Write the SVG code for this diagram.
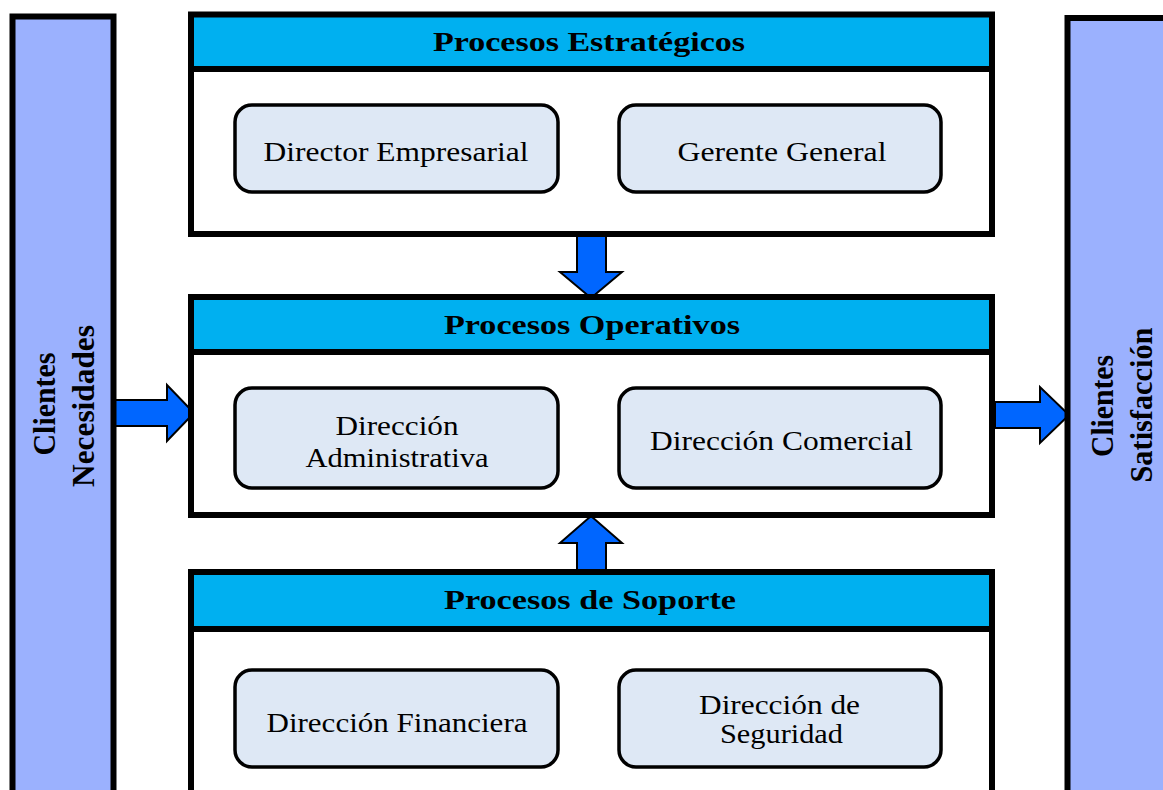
<svg xmlns="http://www.w3.org/2000/svg" width="1163" height="790" viewBox="0 0 1163 790">
<style>
.bar{fill:#9BB1FE;stroke:#000;stroke-width:6}
.hdr{fill:#00B0F0;stroke:#000;stroke-width:6}
.body{fill:#FFFFFF;stroke:#000;stroke-width:6}
.sub{fill:#DEE8F5;stroke:#000;stroke-width:3.5}
.arr{fill:#0066FF;stroke:#000;stroke-width:2;stroke-linejoin:miter}
text{font-family:'Liberation Serif','Times New Roman',Times,'Nimbus Roman',serif;fill:#000;text-anchor:middle}
.ht{font-weight:bold;font-size:28px}
.st{font-size:28px}
.vt{font-weight:bold;font-size:30.5px}
</style>
<rect width="1163" height="790" fill="#FFFFFF"/>
<g id="connectors">
<polygon class="arr" points="115,400 167,400 167,385 194,413 167,441 167,426 115,426"/>
<polygon class="arr" points="995,402 1040,402 1040,387 1069,415 1040,443 1040,428 995,428"/>
<polygon class="arr" points="577,234 606,234 606,272 622,272 591,298 560,272 577,272"/>
<polygon class="arr" points="577,572 606,572 606,543 622,543 591,516 560,543 577,543"/>
</g>
<g id="clientes-necesidades">
<rect class="bar" x="12.5" y="16.5" width="101" height="800"/>
<text class="vt" font-family="Liberation Serif" transform="translate(55,404) rotate(-90)" x="0" y="0" textLength="103" lengthAdjust="spacingAndGlyphs">Clientes</text>
<text class="vt" font-family="Liberation Serif" transform="translate(94,406) rotate(-90)" x="0" y="0" textLength="162" lengthAdjust="spacingAndGlyphs">Necesidades</text>
</g>
<g id="clientes-satisfaccion">
<rect class="bar" x="1067.5" y="18" width="200" height="800"/>
<text class="vt" font-family="Liberation Serif" transform="translate(1113,406) rotate(-90)" x="0" y="0" textLength="102" lengthAdjust="spacingAndGlyphs">Clientes</text>
<text class="vt" font-family="Liberation Serif" transform="translate(1152,405) rotate(-90)" x="0" y="0" textLength="155" lengthAdjust="spacingAndGlyphs">Satisfacción</text>
</g>
<g id="procesos-estrategicos">
<rect class="body" x="191" y="69" width="801" height="165"/>
<rect class="hdr" x="191" y="14.5" width="801" height="54.5"/>
<text class="ht" x="589" y="51" textLength="312" lengthAdjust="spacingAndGlyphs">Procesos Estratégicos</text>
</g>
<g id="director-empresarial">
<rect class="sub" x="235" y="105" width="323" height="87" rx="17"/>
<text class="st" x="396" y="161" textLength="265" lengthAdjust="spacingAndGlyphs">Director Empresarial</text>
</g>
<g id="gerente-general">
<rect class="sub" x="619" y="105" width="322" height="87" rx="17"/>
<text class="st" x="782" y="161" textLength="209" lengthAdjust="spacingAndGlyphs">Gerente General</text>
</g>
<g id="procesos-operativos">
<rect class="body" x="191" y="352" width="801" height="163"/>
<rect class="hdr" x="191" y="297" width="801" height="55"/>
<text class="ht" x="592" y="334" textLength="296" lengthAdjust="spacingAndGlyphs">Procesos Operativos</text>
</g>
<g id="direccion-administrativa">
<rect class="sub" x="235" y="388" width="323" height="100" rx="17"/>
<text class="st" x="397" y="435" textLength="123" lengthAdjust="spacingAndGlyphs">Dirección</text>
<text class="st" x="397" y="467" textLength="183" lengthAdjust="spacingAndGlyphs">Administrativa</text>
</g>
<g id="direccion-comercial">
<rect class="sub" x="619" y="388" width="322" height="100" rx="17"/>
<text class="st" x="781.5" y="450" textLength="263" lengthAdjust="spacingAndGlyphs">Dirección Comercial</text>
</g>
<g id="procesos-de-soporte">
<rect class="body" x="191" y="629" width="801" height="200"/>
<rect class="hdr" x="191" y="572" width="801" height="57"/>
<text class="ht" x="590" y="609" textLength="292" lengthAdjust="spacingAndGlyphs">Procesos de Soporte</text>
</g>
<g id="direccion-financiera">
<rect class="sub" x="235" y="670" width="323" height="97" rx="17"/>
<text class="st" x="397" y="732" textLength="261" lengthAdjust="spacingAndGlyphs">Dirección Financiera</text>
</g>
<g id="direccion-de-seguridad">
<rect class="sub" x="619" y="670" width="322" height="97" rx="17"/>
<text class="st" x="779.5" y="714" textLength="161" lengthAdjust="spacingAndGlyphs">Dirección de</text>
<text class="st" x="781.5" y="743" textLength="123" lengthAdjust="spacingAndGlyphs">Seguridad</text>
</g>
</svg>
